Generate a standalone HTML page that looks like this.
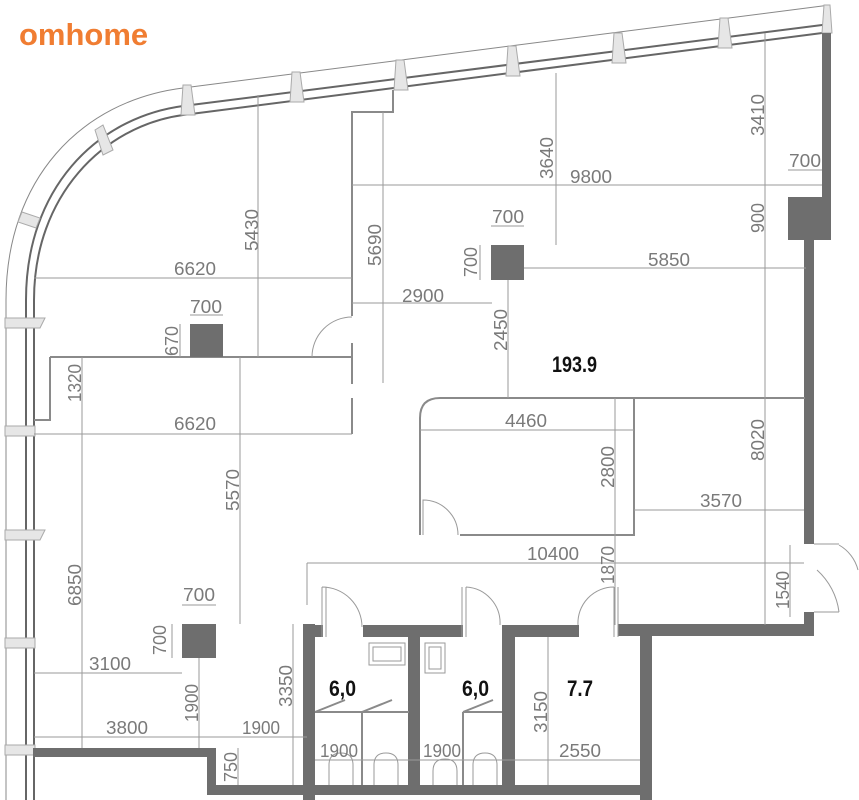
<!DOCTYPE html>
<html><head><meta charset="utf-8"><style>
html,body{margin:0;padding:0;background:#fff;}
svg{display:block}
.d{stroke:#9a9a9a;stroke-width:1;fill:none}
.w{stroke:#8a8a8a;stroke-width:2;fill:none}
.t{font-family:"Liberation Sans Narrow","Liberation Sans",sans-serif;font-size:18px;fill:#7a7a7a}
.b{font-family:"Liberation Sans Narrow","Liberation Sans",sans-serif;font-size:22px;font-weight:bold;fill:#111}
.c{fill:#6e6e6e}
.win{stroke:#aaa;stroke-width:1;fill:#e6e6e6}
</style></head><body>
<svg width="859" height="800" viewBox="0 0 859 800" xmlns="http://www.w3.org/2000/svg">
<text x="19" y="45" font-family="Liberation Sans,sans-serif" font-size="31" font-weight="bold" fill="#f07d32">omhome</text>

<!-- facade -->
<path d="M830,5 L183,88 C80,101 6,180 6,300 L6,800" stroke="#888" stroke-width="1" fill="none"/>
<path d="M830,24 L183,106 C95,118 26,190 26,300 L26,800" stroke="#666" stroke-width="2" fill="none"/>
<path d="M830,32 L183,115 C103,126 34,196 34,300 L34,800" stroke="#666" stroke-width="2" fill="none"/>

<!-- window symbols -->
<g class="win">
<path d="M95,130 l8,-5 l10,25 l-10,5 z"/><path d="M183,85 l8,0 l4,30 l-14,0 z"/><path d="M292,72 l8,0 l4,30 l-14,0 z"/>
<path d="M396,60 l8,0 l4,30 l-14,0 z"/><path d="M508,46 l8,0 l4,30 l-14,0 z"/><path d="M614,33 l8,0 l4,30 l-14,0 z"/>
<path d="M720,18 l8,0 l4,30 l-14,0 z"/><path d="M824,5 l6,0 l2,28 l-10,0 z"/>
<path d="M22,212 l18,6 l-4,10 l-18,-6 z"/>
<path d="M5,318 l40,0 l-5,10 l-35,0 z"/><path d="M5,426 l30,0 l0,10 l-30,0 z"/>
<path d="M5,530 l40,0 l-5,10 l-35,0 z"/><path d="M5,638 l30,0 l0,10 l-30,0 z"/>
<path d="M5,745 l30,0 l0,10 l-30,0 z"/>
</g>

<!-- right wall -->
<rect class="c" x="822" y="33" width="9" height="207"/>
<rect class="c" x="788" y="197" width="43" height="43"/>
<rect class="c" x="804" y="240" width="10" height="304"/>
<rect class="c" x="804" y="612" width="10" height="24"/>
<rect class="c" x="618" y="624" width="196" height="12"/>
<rect class="c" x="640" y="624" width="12" height="176"/>
<path class="d" d="M814,544 h25 M814,612 h25 M839,612 A68,68 0 0 0 817,570"/>
<path class="d" d="M858,570 A40,40 0 0 0 839,545"/>

<!-- bathrooms -->
<rect class="c" x="303" y="624" width="12" height="176"/>
<rect class="c" x="303" y="625" width="20" height="12"/>
<rect class="c" x="363" y="625" width="100" height="12"/>
<rect class="c" x="502" y="625" width="77" height="12"/>
<rect class="c" x="408" y="625" width="12" height="170"/>
<rect class="c" x="502" y="625" width="13" height="170"/>
<rect class="c" x="207" y="785" width="445" height="10"/>
<rect class="c" x="33" y="748" width="183" height="9"/>
<rect class="c" x="207" y="748" width="9" height="47"/>
<path class="d" d="M322,637 V587 M326,637 V587 M322,587 A40,40 0 0 1 362,627"/>
<path class="d" d="M462,637 V587 M466,637 V587 M466,587 A36,36 0 0 1 500,625"/>
<path class="d" d="M618,637 V587 M614,637 V587 M614,587 A36,36 0 0 0 578,625"/>
<path class="d" d="M369,643 h36 v22 h-36 z M373,647 h28 v14 h-28 z"/>
<path class="d" d="M425,643 h20 v30 h-20 z M429,647 h12 v22 h-12 z"/>
<path class="w" d="M315,712 l30,-12 M362,712 l30,-12 M463,712 l30,-12 M362,712 V785 M463,712 V785 M315,712 h47 M362,712 h47 M463,712 h39"/>
<path class="d" d="M329,785 v-20 q0,-12 12,-12 q12,0 12,12 v20 M374,785 v-20 q0,-12 12,-12 q12,0 12,12 v20 M473,785 v-20 q0,-12 12,-12 q12,0 12,12 v20 M433,785 v-14 q0,-12 12,-12 q12,0 12,12 v14"/>

<!-- interior walls -->
<path class="w" d="M393,90 V112 H352 V316 M352,343 V384 M352,398 V434 M50,357 H352 M50,357 V420 H34"/>
<path class="d" d="M312,357 A40,40 0 0 1 352,317 M34,434 H352"/>
<path class="w" d="M420,535 V418 Q420,398 440,398 H805 M634,398 V535 H460"/>
<path class="d" d="M423,535 V500 A35,35 0 0 1 458,535"/>

<!-- columns -->
<rect class="c" x="190" y="324" width="33" height="33"/>
<rect class="c" x="491" y="245" width="33" height="35"/>
<rect class="c" x="182" y="624" width="34" height="34"/>

<!-- dimension lines -->
<g class="d">
<path d="M34,278 H352 M258,95 V357 M383,112 V383 M190,315 H223 M180,324 V357 M352,303 H492 M556,73 V245 M352,185 H822 M491,226 H524 M480,245 V280 M524,268 H806 M765,33 V625 M788,170 H822 M765,197 V240 M508,280 V398 M420,430 H634 M615,398 V535 M634,510 H804 M82,357 V420 M240,357 V624 M307,563 H804 M307,563 V605 M615,535 V625 M790,545 V617 M82,420 V748 M182,605 H216 M172,624 V658 M34,673 H182 M199,658 V748 M293,624 V785 M34,737 H307 M238,748 V785 M548,637 V785 M315,760 H640"/>
</g>

<!-- labels -->
<g class="t" lengthAdjust="spacingAndGlyphs">
<text x="174" y="275" textLength="42" lengthAdjust="spacingAndGlyphs">6620</text>
<text transform="translate(258,230) rotate(-90)" text-anchor="middle" textLength="42" lengthAdjust="spacingAndGlyphs">5430</text>
<text transform="translate(381,245) rotate(-90)" text-anchor="middle" textLength="42" lengthAdjust="spacingAndGlyphs">5690</text>
<text x="190" y="313" textLength="32" lengthAdjust="spacingAndGlyphs">700</text>
<text transform="translate(178,341) rotate(-90)" text-anchor="middle" textLength="30" lengthAdjust="spacingAndGlyphs">670</text>
<text x="402" y="302" textLength="42" lengthAdjust="spacingAndGlyphs">2900</text>
<text transform="translate(553,158) rotate(-90)" text-anchor="middle" textLength="42" lengthAdjust="spacingAndGlyphs">3640</text>
<text x="570" y="183" textLength="42" lengthAdjust="spacingAndGlyphs">9800</text>
<text x="492" y="223" textLength="32" lengthAdjust="spacingAndGlyphs">700</text>
<text transform="translate(477,262) rotate(-90)" text-anchor="middle" textLength="30" lengthAdjust="spacingAndGlyphs">700</text>
<text x="648" y="266" textLength="42" lengthAdjust="spacingAndGlyphs">5850</text>
<text transform="translate(764,115) rotate(-90)" text-anchor="middle" textLength="42" lengthAdjust="spacingAndGlyphs">3410</text>
<text x="789" y="167" textLength="32" lengthAdjust="spacingAndGlyphs">700</text>
<text transform="translate(764,218) rotate(-90)" text-anchor="middle" textLength="30" lengthAdjust="spacingAndGlyphs">900</text>
<text transform="translate(507,330) rotate(-90)" text-anchor="middle" textLength="42" lengthAdjust="spacingAndGlyphs">2450</text>
<text x="505" y="427" textLength="42" lengthAdjust="spacingAndGlyphs">4460</text>
<text transform="translate(614,467) rotate(-90)" text-anchor="middle" textLength="42" lengthAdjust="spacingAndGlyphs">2800</text>
<text transform="translate(764,440) rotate(-90)" text-anchor="middle" textLength="42" lengthAdjust="spacingAndGlyphs">8020</text>
<text x="700" y="507" textLength="42" lengthAdjust="spacingAndGlyphs">3570</text>
<text transform="translate(81,383) rotate(-90)" text-anchor="middle" textLength="38" lengthAdjust="spacingAndGlyphs">1320</text>
<text x="174" y="430" textLength="42" lengthAdjust="spacingAndGlyphs">6620</text>
<text transform="translate(239,490) rotate(-90)" text-anchor="middle" textLength="42" lengthAdjust="spacingAndGlyphs">5570</text>
<text x="527" y="560" textLength="52" lengthAdjust="spacingAndGlyphs">10400</text>
<text transform="translate(614,565) rotate(-90)" text-anchor="middle" textLength="38" lengthAdjust="spacingAndGlyphs">1870</text>
<text transform="translate(789,590) rotate(-90)" text-anchor="middle" textLength="38" lengthAdjust="spacingAndGlyphs">1540</text>
<text transform="translate(81,585) rotate(-90)" text-anchor="middle" textLength="42" lengthAdjust="spacingAndGlyphs">6850</text>
<text x="183" y="601" textLength="32" lengthAdjust="spacingAndGlyphs">700</text>
<text transform="translate(166,640) rotate(-90)" text-anchor="middle" textLength="30" lengthAdjust="spacingAndGlyphs">700</text>
<text x="89" y="670" textLength="42" lengthAdjust="spacingAndGlyphs">3100</text>
<text transform="translate(198,703) rotate(-90)" text-anchor="middle" textLength="38" lengthAdjust="spacingAndGlyphs">1900</text>
<text transform="translate(292,686) rotate(-90)" text-anchor="middle" textLength="42" lengthAdjust="spacingAndGlyphs">3350</text>
<text x="106" y="734" textLength="42" lengthAdjust="spacingAndGlyphs">3800</text>
<text x="242" y="734" textLength="38" lengthAdjust="spacingAndGlyphs">1900</text>
<text transform="translate(237,767) rotate(-90)" text-anchor="middle" textLength="30" lengthAdjust="spacingAndGlyphs">750</text>
<text transform="translate(547,712) rotate(-90)" text-anchor="middle" textLength="42" lengthAdjust="spacingAndGlyphs">3150</text>
<text x="320" y="757" textLength="38" lengthAdjust="spacingAndGlyphs">1900</text>
<text x="423" y="757" textLength="38" lengthAdjust="spacingAndGlyphs">1900</text>
<text x="559" y="757" textLength="42" lengthAdjust="spacingAndGlyphs">2550</text>
</g>
<text class="b" x="552" y="372" textLength="45" lengthAdjust="spacingAndGlyphs">193.9</text>
<text class="b" x="329" y="696" textLength="27" lengthAdjust="spacingAndGlyphs">6,0</text>
<text class="b" x="462" y="696" textLength="27" lengthAdjust="spacingAndGlyphs">6,0</text>
<text class="b" x="567" y="696" textLength="26" lengthAdjust="spacingAndGlyphs">7.7</text>
</svg>
</body></html>
